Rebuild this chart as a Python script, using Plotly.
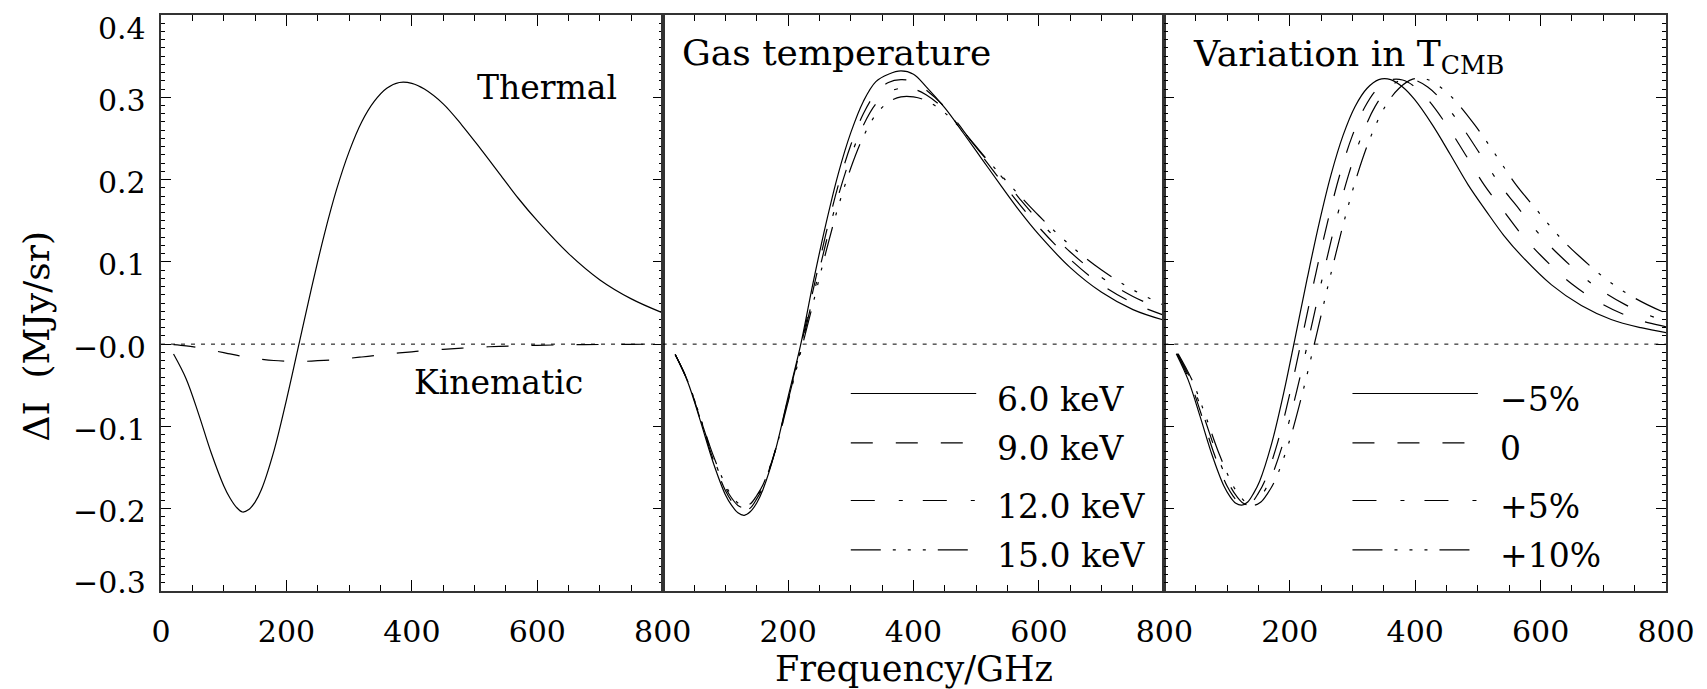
import plotly.graph_objects as go

# ---------------- data ----------------
freq = [20, 40, 60, 80, 100, 110, 120, 130, 140, 150, 160, 180, 200, 220, 240, 260, 280, 300,
        320, 340, 360, 380, 400, 420, 450, 480, 510, 540, 570, 600, 650, 700, 750, 800]

thermal = [-0.012, -0.042, -0.085, -0.132, -0.172, -0.187, -0.198, -0.204, -0.201, -0.192,
           -0.177, -0.130, -0.068, 0.000, 0.068, 0.132, 0.188, 0.234, 0.270, 0.295, 0.311,
           0.318, 0.317, 0.310, 0.292, 0.266, 0.237, 0.207, 0.177, 0.150, 0.110, 0.078,
           0.055, 0.038]

kinematic = [-0.0005, -0.0020, -0.0044, -0.0073, -0.0104, -0.0119, -0.0134, -0.0148, -0.0161,
             -0.0172, -0.0183, -0.0199, -0.0207, -0.0210, -0.0206, -0.0198, -0.0186, -0.0172,
             -0.0156, -0.0139, -0.0123, -0.0107, -0.0093, -0.0080, -0.0063, -0.0048, -0.0036,
             -0.0027, -0.0020, -0.0014, -0.0008, -0.0004, -0.0002, -0.0001]

t6keV = [-0.0123, -0.046, -0.093, -0.1426, -0.183, -0.196, -0.205, -0.208, -0.2034, -0.193,
         -0.1766, -0.1285, -0.064, -0.001, 0.075, 0.145, 0.207, 0.257, 0.295, 0.319, 0.328,
         0.332, 0.328, 0.313, 0.287, 0.256, 0.224, 0.192, 0.161, 0.133, 0.093, 0.063, 0.042,
         0.029]
t9keV = [-0.0125, -0.045, -0.091, -0.139, -0.178, -0.191, -0.200, -0.203, -0.199, -0.188,
         -0.174, -0.128, -0.066, -0.004, 0.066, 0.133, 0.193, 0.242, 0.280, 0.305, 0.318,
         0.3215, 0.319, 0.309, 0.288, 0.259, 0.228, 0.198, 0.169, 0.142, 0.103, 0.072, 0.050,
         0.035]
t12keV = [-0.0127, -0.045, -0.090, -0.136, -0.174, -0.187, -0.196, -0.199, -0.196, -0.185,
          -0.172, -0.128, -0.068, -0.007, 0.058, 0.122, 0.180, 0.228, 0.266, 0.292, 0.306,
          0.311, 0.310, 0.303, 0.285, 0.258, 0.230, 0.204, 0.176, 0.150, 0.112, 0.081, 0.058,
          0.041]
t15keV = [-0.013, -0.045, -0.089, -0.134, -0.171, -0.184, -0.193, -0.196, -0.194, -0.184,
          -0.171, -0.128, -0.070, -0.010, 0.050, 0.111, 0.167, 0.214, 0.252, 0.279, 0.294,
          0.3005, 0.3005, 0.296, 0.281, 0.258, 0.231, 0.205, 0.180, 0.156, 0.120, 0.090,
          0.066, 0.047]

cmb_m5_x = [19, 38, 57, 76, 95, 104.5, 114, 123.5, 133, 142.5, 152, 171, 190, 209, 228, 247,
            266, 285, 304, 323, 342, 361, 380, 399, 427.5, 456, 484.5, 513, 541.5, 570, 617.5,
            665, 712.5, 760, 807.5]
cmb_m5_y = [-0.0116, -0.0434, -0.0878, -0.1345, -0.1725, -0.185, -0.1934, -0.1957, -0.1918,
            -0.181, -0.1665, -0.1212, -0.0604, 0.0092, 0.0804, 0.1475, 0.2064, 0.2537, 0.2886,
            0.3107, 0.3215, 0.3215, 0.3125, 0.2974, 0.2665, 0.2305, 0.1936, 0.162, 0.132,
            0.107, 0.072, 0.047, 0.030, 0.020, 0.013]
cmb_0_x = [20, 40, 60, 80, 100, 110, 120, 130, 140, 150, 160, 180, 200, 220, 240, 260, 280,
           300, 320, 340, 360, 380, 400, 420, 450, 480, 510, 540, 570, 600, 650, 700, 750,
           800, 850]
cmb_0_y = [-0.0116, -0.0434, -0.0878, -0.1345, -0.1725, -0.185, -0.1934, -0.1957, -0.1918,
           -0.181, -0.1665, -0.1212, -0.0604, 0.0092, 0.0804, 0.1475, 0.2064, 0.2537, 0.2886,
           0.3107, 0.321, 0.321, 0.3125, 0.2974, 0.2665, 0.2305, 0.1936, 0.163, 0.133, 0.108,
           0.073, 0.048, 0.031, 0.021, 0.013]
cmb_p5_x = [21, 42, 63, 84, 105, 115.5, 126, 136.5, 147, 157.5, 168, 189, 210, 231, 252, 273,
            294, 315, 336, 357, 378, 399, 420, 441, 472.5, 504, 535.5, 567, 598.5, 630, 682.5,
            735, 787.5, 840, 892.5]
cmb_p5_y = [-0.0116, -0.0434, -0.0878, -0.1345, -0.1725, -0.185, -0.1934, -0.1957, -0.1918,
            -0.181, -0.1665, -0.1212, -0.0604, 0.0092, 0.0804, 0.1475, 0.2064, 0.2537, 0.2886,
            0.3107, 0.321, 0.321, 0.3125, 0.2974, 0.2665, 0.2305, 0.1936, 0.163, 0.133, 0.108,
            0.073, 0.048, 0.031, 0.021, 0.013]
cmb_p10_x = [22, 44, 66, 88, 110, 121, 132, 143, 154, 165, 176, 198, 220, 242, 264, 286, 308,
             330, 352, 374, 396, 418, 440, 462, 495, 528, 561, 594, 627, 660, 715, 770, 825,
             880, 935]
cmb_p10_y = [-0.0116, -0.0434, -0.0878, -0.1345, -0.1725, -0.185, -0.1934, -0.1957, -0.1918,
             -0.181, -0.1665, -0.1212, -0.0604, 0.0092, 0.0804, 0.1475, 0.2064, 0.2537,
             0.2886, 0.3107, 0.322, 0.322, 0.3125, 0.2974, 0.2665, 0.2305, 0.1936, 0.163,
             0.133, 0.108, 0.073, 0.048, 0.031, 0.021, 0.013]

zero_x = [0, 800]
zero_y = [0, 0]

ytick_vals = [0.4, 0.3, 0.2, 0.1, 0.0, -0.1, -0.2, -0.3]
ytick_text = ["0.4", "0.3", "0.2", "0.1", "\u22120.0", "\u22120.1", "\u22120.2", "\u22120.3"]
xtick_vals_first = [0, 200, 400, 600, 800]
xtick_vals_rest = [200, 400, 600, 800]

temp_labels = ["6.0 keV", "9.0 keV", "12.0 keV", "15.0 keV"]
cmb_labels = ["\u22125%", "0", "+5%", "+10%"]
legend_rows = [-0.06, -0.12, -0.19, -0.25]

# ---------------- styling ----------------
W, H = 1707, 689
L, R, T, B = 161, 34, 15, 98
SERIF = "DejaVu Serif"
INK = "black"
FRAME = "#333333"
DASHES = ["solid", "22px,23px", "24px,24px,4px,20px", "30px,12px,3px,12px,3px,12px,3px,12px"]
LW = 1.2

fig = go.Figure()

def line(x, y, xa, ya, dash):
    fig.add_trace(go.Scatter(x=x, y=y, xaxis=xa, yaxis=ya, mode="lines",
                             line=dict(color=INK, width=LW, dash=dash, shape="spline",
                                       smoothing=1.0),
                             showlegend=False, hoverinfo="skip"))

for xa, ya in [("x", "y"), ("x2", "y2"), ("x3", "y3")]:
    fig.add_trace(go.Scatter(x=zero_x, y=zero_y, xaxis=xa, yaxis=ya, mode="lines",
                             line=dict(color=INK, width=1, dash="4px,6px"),
                             showlegend=False, hoverinfo="skip"))

line(freq, thermal, "x", "y", "solid")
line(freq, kinematic, "x", "y", "22px,23px")

for ys, d in zip([t6keV, t9keV, t12keV, t15keV], DASHES):
    line(freq, ys, "x2", "y2", d)

for xs, ys, d in zip([cmb_m5_x, cmb_0_x, cmb_p5_x, cmb_p10_x],
                     [cmb_m5_y, cmb_0_y, cmb_p5_y, cmb_p10_y], DASHES):
    line(xs, ys, "x3", "y3", d)

tickfont = dict(family=SERIF, size=30, color=INK)

def xaxis(dom, vals, anchor):
    return dict(domain=dom, range=[0, 800], anchor=anchor, showline=True, mirror="ticks",
                linecolor=FRAME, linewidth=1.6, ticks="inside", ticklen=11, tickwidth=1,
                tickcolor=INK, tickvals=vals, ticktext=[str(v) for v in vals],
                minor=dict(ticks="inside", ticklen=6, dtick=50, tickwidth=1, tickcolor=INK,
                           showgrid=False),
                showgrid=False, zeroline=False, tickfont=tickfont, ticklabelstandoff=13)

def yaxis(anchor, with_ticks):
    d = dict(range=[-0.3, 0.4], anchor=anchor, showline=True, mirror=True,
             linecolor=FRAME, linewidth=1.6, showgrid=False, zeroline=False,
             showticklabels=False)
    if with_ticks:
        d.update(mirror="ticks", ticks="inside", ticklen=10, tickwidth=1, tickcolor=INK,
                 dtick=0.1, tick0=0,
                 minor=dict(ticks="inside", ticklen=4, dtick=0.01, tickwidth=1,
                            tickcolor=INK, showgrid=False))
    else:
        d.update(ticks="")
    return d

fig.update_layout(
    width=W, height=H, autosize=False,
    margin=dict(l=L, r=R, t=T, b=B, pad=0),
    paper_bgcolor="white", plot_bgcolor="white",
    showlegend=False,
    xaxis=xaxis([0, 1 / 3], xtick_vals_first, "y"),
    xaxis2=xaxis([1 / 3, 2 / 3], xtick_vals_rest, "y2"),
    xaxis3=xaxis([2 / 3, 1], xtick_vals_rest, "y3"),
    yaxis=yaxis("x", True),
    yaxis2=yaxis("x2", False),
    yaxis3=yaxis("x3", True),
)

ann = []
# y tick labels (IDL-style placement)
yshifts = {0.4: -13.5, -0.3: 9}
for v, t in zip(ytick_vals, ytick_text):
    ann.append(dict(x=(148 - L) / (W - L - R), xref="paper", y=v, yref="y", text=t,
                    showarrow=False, xanchor="right", yanchor="middle",
                    yshift=yshifts.get(v, -3), font=dict(family=SERIF, size=30, color=INK)))

hfont = dict(family=SERIF, size=33, color=INK)
ann.append(dict(x=500, y=0.312, xref="x", yref="y", text="Thermal", showarrow=False,
                xanchor="left", yanchor="middle", font=hfont))
ann.append(dict(x=400, y=-0.047, xref="x", yref="y", text="Kinematic", showarrow=False,
                xanchor="left", yanchor="middle", font=hfont))

tfont = dict(family=SERIF, size=36, color=INK)
ann.append(dict(x=28, y=0.354, xref="x2", yref="y2", text="Gas temperature",
                showarrow=False, xanchor="left", yanchor="middle", font=tfont))
ann.append(dict(x=42, y=0.350, xref="x3", yref="y3", text="Variation in T<sub>CMB</sub>",
                showarrow=False, xanchor="left", yanchor="middle", font=tfont))

# legends
for i, (row, lab) in enumerate(zip(legend_rows, temp_labels)):
    fig.add_shape(type="line", x0=300, x1=500, y0=row, y1=row, xref="x2", yref="y2",
                  line=dict(color=INK, width=LW, dash=DASHES[i]))
    ann.append(dict(x=530, y=row, xref="x2", yref="y2", text=lab, showarrow=False,
                    xanchor="left", yanchor="middle", yshift=-6, font=hfont))
for i, (row, lab) in enumerate(zip(legend_rows, cmb_labels)):
    fig.add_shape(type="line", x0=300, x1=500, y0=row, y1=row, xref="x3", yref="y3",
                  line=dict(color=INK, width=LW, dash=DASHES[i]))
    ann.append(dict(x=532, y=row, xref="x3", yref="y3", text=lab, showarrow=False,
                    xanchor="left", yanchor="middle", yshift=-6, font=hfont))

# axis titles
ann.append(dict(x=0.5, y=(591 - 669) / (H - T - B), xref="paper", yref="paper",
                text="Frequency/GHz", showarrow=False, xanchor="center", yanchor="middle",
                font=dict(family=SERIF, size=35, color=INK)))
ann.append(dict(x=(35 - L) / (W - L - R), y=(591 - 336) / (H - T - B), xref="paper",
                yref="paper", text="\u0394I  (MJy/sr)", showarrow=False, textangle=-90,
                xanchor="center", yanchor="middle",
                font=dict(family=SERIF, size=36, color=INK)))

fig.update_layout(annotations=ann)
fig.write_html("out.html")
